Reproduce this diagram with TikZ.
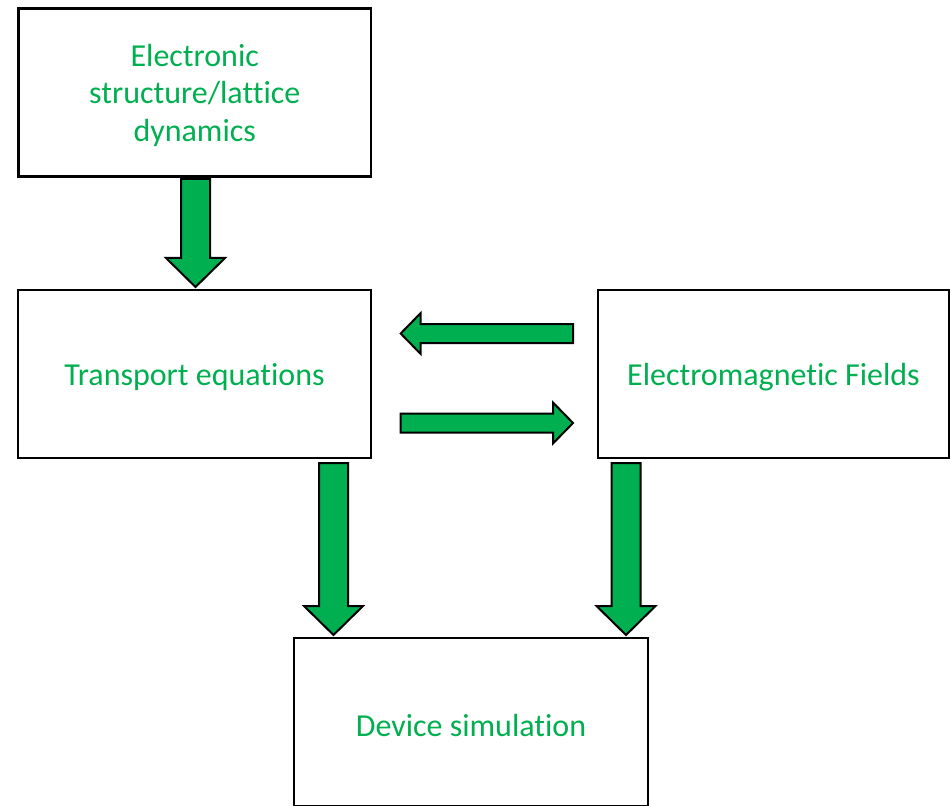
\documentclass[tikz,border=0pt]{standalone}
\usepackage{fontspec}
\setmainfont{Carlito}[Ligatures=NoCommon]
\usetikzlibrary{calc}
\definecolor{grn}{HTML}{00B050}
\newcommand\lowr[1]{\raisebox{-2.5pt}[\height][\depth]{#1}}
\newcommand\downarr[2]{%
  \draw[arr] ($(#1)+(-14.5,0)$) -- ($(#2)+(-14.5,-29)$) -- ($(#2)+(-29.5,-29)$) -- (#2)
    -- ($(#2)+(29.5,-29)$) -- ($(#2)+(14.5,-29)$) -- ($(#1)+(14.5,0)$) -- cycle;}
\newcommand\harr[3]{%
  \draw[arr] ($(#1)+(0,-9.5)$) -- ($(#2)+(#3*20,-9.5)$) -- ($(#2)+(#3*20,-20.5)$) -- (#2)
    -- ($(#2)+(#3*20,20.5)$) -- ($(#2)+(#3*20,9.5)$) -- ($(#1)+(0,9.5)$) -- cycle;}
\begin{document}
\begin{tikzpicture}[x=0.75pt,y=-0.75pt,
  box/.style={draw=black,line width=1.9pt,fill=white,minimum height=126pt,
    inner sep=0pt,text=grn,font=\fontsize{24}{28.1}\selectfont,align=center},
  arr/.style={draw=black,line width=1.5pt,fill=grn,line join=miter}]
\useasboundingbox (0,0) rectangle (950,806);
\node[box,minimum width=264.4pt] (elec) at (194.75,92.75)
  {\lowr{\begin{tabular}{@{}c@{}}Electronic\\structure/lattice\\dynamics\end{tabular}}};
\node[box,minimum width=264.75pt] (trans) at (194.5,374) {\lowr{Transport equations}};
\node[box,minimum width=263.25pt] (em) at (773.5,374) {\lowr{Electromagnetic Fields}};
\node[box,minimum width=265.5pt] (dev) at (471,722) {\lowr{Device simulation}};
% connectors
\coordinate (a1s) at (195.5,179);
\coordinate (a1t) at (195.5,287);
\downarr{a1s}{a1t}
\coordinate (a2s) at (573,333.5);
\coordinate (a2t) at (400.7,333.5);
\harr{a2s}{a2t}{1}
\coordinate (a3s) at (400.7,423);
\coordinate (a3t) at (573,423);
\harr{a3s}{a3t}{-1}
\coordinate (a4s) at (333.5,463);
\coordinate (a4t) at (333.5,635);
\downarr{a4s}{a4t}
\coordinate (a5s) at (626,463);
\coordinate (a5t) at (626,635);
\downarr{a5s}{a5t}
\end{tikzpicture}
\end{document}
